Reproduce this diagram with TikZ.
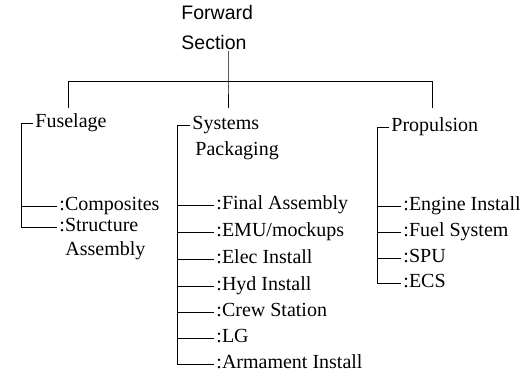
\documentclass[tikz,border=0pt]{standalone}
\usepackage{fontspec}
\setmainfont{Liberation Serif}
\newfontfamily\hdfont{Liberation Sans}

\begin{document}
\fontsize{20}{24}\selectfont
\begin{tikzpicture}[x=1pt, y=-1pt, line width=0.9pt, t/.style={font=\hdfont\fontsize{19.5}{23}\selectfont, inner sep=0pt, anchor=base west}, l/.style={font=\fontsize{20}{24}\selectfont, inner xsep=2pt, inner ysep=0pt, anchor=mid west}]
	\useasboundingbox (0,0) rectangle (528,377);
	\node[t] (fw) at (181,20) {Forward};
	\node[t] (sec) at (181,50) {Section};
	\coordinate (hub) at (228,81);
	\coordinate (lft) at (68,81);
	\coordinate (rgt) at (432,81);
	\draw (sec.south -| hub) -- (hub) -- ++(0,27);
	\draw (lft) -- (rgt);
	\draw (lft) -- ++(0,27);
	\draw (rgt) -- ++(0,27);
	% fuselage
	\node[l] (fus) at (33,123) {Fuselage};
	\node[l] (comp) at (57,206) {:Composites};
	\node[l] (str) at (57,227) {:Structure};
	\node[l, anchor=base west] (asm) at ([xshift=6pt,yshift=-24pt]str.base west) {Assembly};
	\draw (fus.mid west) -- ++(-12,0) |- (str.mid west);
	\draw (comp.mid west) -- ++(-36,0);
	% systems packaging
	\node[l] (sys) at (190,125) {Systems};
	\node[l, anchor=base west] (pkg) at ([xshift=3pt,yshift=-26pt]sys.base west) {Packaging};
	\node[l] (fa) at (214,205) {:Final Assembly};
	\node[l] (emu) at (214,232) {:EMU/mockups};
	\node[l] (elec) at (214,259) {:Elec Install};
	\node[l] (hyd) at (214,286) {:Hyd Install};
	\node[l] (crew) at (214,312) {:Crew Station};
	\node[l] (lg) at (214,338) {:LG};
	\node[l] (arm) at (214,364) {:Armament Install};
	\draw (sys.mid west) -- ++(-13,0) |- (arm.mid west);
	\draw (fa.mid west) -- ++(-37,0);
	\draw (emu.mid west) -- ++(-37,0);
	\draw (elec.mid west) -- ++(-37,0);
	\draw (hyd.mid west) -- ++(-37,0);
	\draw (crew.mid west) -- ++(-37,0);
	\draw (lg.mid west) -- ++(-37,0);
	% propulsion
	\node[l] (prop) at (389,127) {Propulsion};
	\node[l] (eng) at (401,206) {:Engine Install};
	\node[l] (fuel) at (401,232) {:Fuel System};
	\node[l] (spu) at (401,258) {:SPU};
	\node[l] (ecs) at (401,283) {:ECS};
	\draw (prop.mid west) -- ++(-12,0) |- (ecs.mid west);
	\draw (eng.mid west) -- ++(-24,0);
	\draw (fuel.mid west) -- ++(-24,0);
	\draw (spu.mid west) -- ++(-24,0);
\end{tikzpicture}
\end{document}
